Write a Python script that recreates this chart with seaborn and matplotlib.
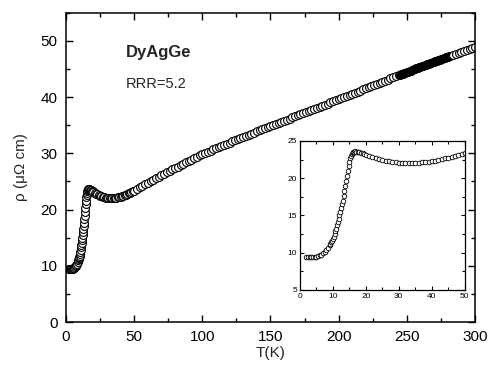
import numpy as np
import pandas as pd
import matplotlib
matplotlib.use("Agg")
import matplotlib.pyplot as plt
from matplotlib.ticker import MultipleLocator
import seaborn as sns

# low temperature readings (used by both the main plot and the inset)
t_low = [2.0, 2.5, 3.0, 3.5, 4.0, 4.5, 5.0, 5.5, 6.0, 6.5, 7.0, 7.5, 8.0, 8.5,
         9.0, 9.25, 9.5, 9.75, 10.0, 10.25, 10.5, 10.75, 11.0, 11.25, 11.5, 11.75,
         12.0, 12.25, 12.5, 12.75, 13.0, 13.25, 13.5, 13.75, 14.0, 14.25, 14.5, 14.75,
         15.0, 15.25, 15.5, 15.75, 16.0, 16.25, 16.5, 16.75, 17.0, 17.5, 18.0, 18.5,
         19.0, 19.5, 20, 21, 22, 23, 24, 25, 26, 27, 28, 29, 30, 31, 32, 33, 34, 35,
         36, 37, 38, 39, 40, 41, 42, 43, 44, 45, 46, 47, 48, 49, 50]
rho_low = [9.40, 9.40, 9.40, 9.41, 9.42, 9.45, 9.48, 9.55, 9.63, 9.75, 9.92, 10.12, 10.40, 10.68,
           11.00, 11.18, 11.38, 11.58, 11.80, 12.12, 12.46, 12.85, 13.25, 13.66, 14.08, 14.52,
           15.00, 15.48, 15.98, 16.48, 17.00, 17.62, 18.26, 18.92, 19.60, 20.28, 20.94, 21.60,
           22.20, 22.66, 23.00, 23.25, 23.42, 23.52, 23.57, 23.59, 23.58, 23.56, 23.50, 23.42,
           23.33, 23.24, 23.15, 22.98, 22.82, 22.68, 22.55, 22.44, 22.34, 22.25, 22.18, 22.12,
           22.07, 22.04, 22.02, 22.01, 22.02, 22.04, 22.07, 22.11, 22.16, 22.22, 22.29, 22.37,
           22.46, 22.56, 22.66, 22.77, 22.88, 23.00, 23.12, 23.24, 23.36]

# higher temperature readings (main plot only)
t_high = [52, 54, 56, 58, 60, 62, 64, 66, 68, 70, 72, 74, 76, 78, 80, 82, 84, 86, 88, 90,
          92, 94, 96, 98, 100, 102, 104, 106, 108, 110, 112, 114, 116, 118, 120, 122, 124,
          126, 128, 130, 132, 134, 136, 138, 140, 142, 144, 146, 148, 150, 152, 154, 156,
          158, 160, 162, 164, 166, 168, 170, 172, 174, 176, 178, 180, 182, 184, 186, 188,
          190, 192, 194, 196, 198, 200, 202, 204, 206, 208, 210, 212, 214, 216, 218, 220,
          222, 224, 226, 228, 230, 232, 234, 236, 238, 240, 242, 244]
rho_high = [23.67, 23.94, 24.21, 24.48, 24.75, 25.02, 25.29, 25.56, 25.83, 26.10, 26.36, 26.62,
            26.88, 27.14, 27.40, 27.65, 27.90, 28.15, 28.40, 28.65, 28.89, 29.13, 29.37, 29.61,
            29.85, 30.06, 30.27, 30.48, 30.69, 30.90, 31.10, 31.30, 31.50, 31.70, 31.90, 32.10,
            32.30, 32.50, 32.70, 32.90, 33.10, 33.29, 33.49, 33.68, 33.88, 34.07, 34.27, 34.46,
            34.66, 34.85, 35.04, 35.23, 35.42, 35.61, 35.80, 35.99, 36.18, 36.37, 36.56, 36.75,
            36.94, 37.13, 37.32, 37.51, 37.70, 37.89, 38.08, 38.27, 38.47, 38.66, 38.85, 39.04,
            39.24, 39.43, 39.62, 39.81, 40.00, 40.20, 40.39, 40.58, 40.77, 40.97, 41.16, 41.36,
            41.55, 41.74, 41.93, 42.12, 42.31, 42.50, 42.70, 42.90, 43.10, 43.30, 43.50, 43.70,
            43.90]

# densely sampled stretch (shows as a solid band)
t_dense = [245, 246, 247, 248, 249, 250, 251, 252, 253, 254, 255, 256, 257, 258, 259, 260,
           261, 262, 263, 264, 265, 266, 267, 268, 269, 270, 271, 272, 273, 274, 275, 276,
           277, 278, 279, 280, 281, 282]
rho_dense = [44.00, 44.09, 44.18, 44.27, 44.36, 44.45, 44.54, 44.63, 44.72, 44.81, 44.90, 44.99,
             45.08, 45.17, 45.26, 45.35, 45.44, 45.53, 45.62, 45.71, 45.80, 45.89, 45.98, 46.07,
             46.16, 46.25, 46.34, 46.43, 46.52, 46.61, 46.70, 46.79, 46.88, 46.97, 47.06, 47.15,
             47.24, 47.33]

t_tail = [284, 286, 288, 290, 292, 294, 296, 298, 300]
rho_tail = [47.50, 47.67, 47.84, 48.00, 48.17, 48.34, 48.51, 48.68, 48.85]

sns.set_style("ticks")
plt.rcParams['font.family'] = ['Liberation Sans', 'DejaVu Sans']

main_df = pd.DataFrame({'T': t_low + t_high, 'rho': rho_low + rho_high})
dense_df = pd.DataFrame({'T': t_dense, 'rho': rho_dense})
tail_df = pd.DataFrame({'T': t_tail, 'rho': rho_tail})
inset_df = pd.DataFrame({'T': t_low, 'rho': rho_low})

fig = plt.figure(figsize=(4.94, 3.68), dpi=100)
ax = fig.add_axes([0.1336, 0.125, 0.8279, 0.8405])

sns.scatterplot(data=main_df, x='T', y='rho', ax=ax, marker='o', s=32,
                facecolor='white', edgecolor='black', linewidth=0.8, legend=False)
sns.scatterplot(data=dense_df, x='T', y='rho', ax=ax, marker='o', s=32,
                facecolor='black', edgecolor='black', linewidth=0.8, legend=False)
sns.scatterplot(data=tail_df, x='T', y='rho', ax=ax, marker='o', s=32,
                facecolor='white', edgecolor='black', linewidth=0.8, legend=False)

ax.set_xlim(0, 300)
ax.set_ylim(0, 55)
ax.xaxis.set_major_locator(MultipleLocator(50))
ax.xaxis.set_minor_locator(MultipleLocator(25))
ax.yaxis.set_major_locator(MultipleLocator(10))
ax.yaxis.set_minor_locator(MultipleLocator(5))
ax.tick_params(which='both', direction='in', top=True, right=True, width=1.0, colors='black')
ax.tick_params(which='major', length=5, labelsize=11)
ax.tick_params(which='minor', length=3)
ax.tick_params(axis='x', which='major', pad=6)
ax.tick_params(axis='y', which='major', pad=6)
for sp in ax.spines.values():
    sp.set_linewidth(1.1)
    sp.set_color('black')
ax.set_xlabel('T(K)', fontsize=11, labelpad=1)
ax.set_ylabel('ρ (μΩ cm)', fontsize=11, labelpad=9)

ax.text(44, 48.0, 'DyAgGe', fontsize=12, fontweight='bold', va='center', ha='left')
ax.text(44, 42.3, 'RRR=5.2', fontsize=10.5, va='center', ha='left')

# inset
axin = fig.add_axes([0.607, 0.212, 0.334, 0.405])
sns.scatterplot(data=inset_df, x='T', y='rho', ax=axin, marker='o', s=11,
                facecolor='white', edgecolor='black', linewidth=0.6, legend=False)
axin.set_xlim(0, 50)
axin.set_ylim(5, 25)
axin.xaxis.set_major_locator(MultipleLocator(10))
axin.xaxis.set_minor_locator(MultipleLocator(5))
axin.yaxis.set_major_locator(MultipleLocator(5))
axin.yaxis.set_minor_locator(MultipleLocator(2.5))
axin.tick_params(which='both', direction='in', top=True, right=True, width=0.8, colors='black')
axin.tick_params(which='major', length=3, labelsize=6, pad=2)
axin.tick_params(which='minor', length=2)
for sp in axin.spines.values():
    sp.set_linewidth(0.9)
    sp.set_color('black')
axin.set_xlabel('')
axin.set_ylabel('')

fig.savefig('out.png', dpi=100)
